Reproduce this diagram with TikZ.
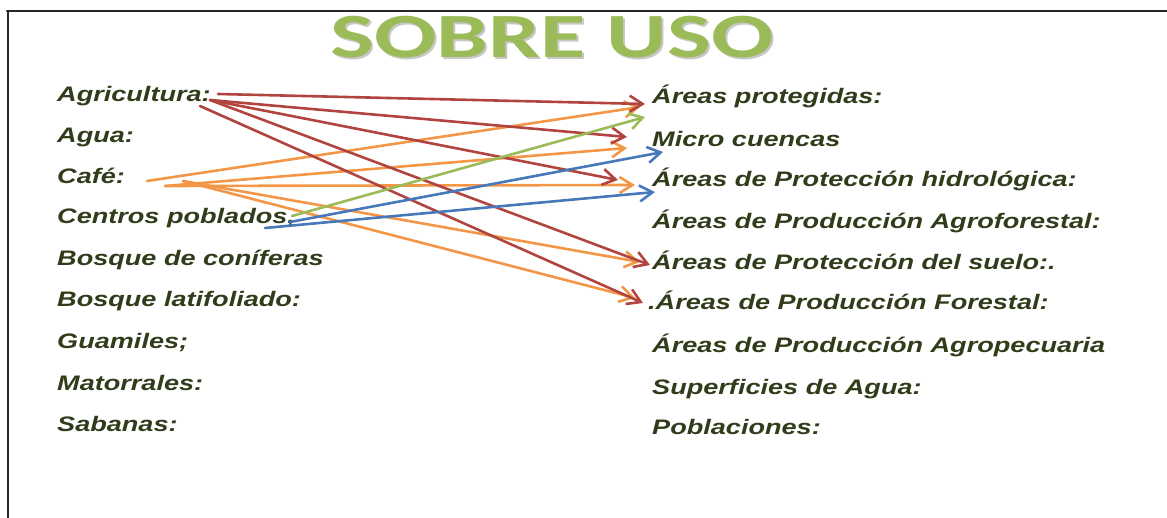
\documentclass[tikz,border=0pt]{standalone}
\usepackage{fontspec}
\usepackage{xcolor}
\usepackage{tikz}
\usetikzlibrary{arrows.meta, positioning, calc}
\newfontfamily\lblfont[FakeStretch=1.29]{Liberation Sans}
\newfontfamily\ttlfont[FakeStretch=1.47]{Carlito}
\definecolor{redln}{RGB}{178,68,64}
\definecolor{orgln}{RGB}{243,150,72}
\definecolor{grnln}{RGB}{155,187,89}
\definecolor{bluln}{RGB}{70,120,186}
\definecolor{lbltxt}{RGB}{48,60,26}

\begin{document}
\begin{tikzpicture}[x=1pt, y=-1pt, line join=round, line cap=round]
   % Styles
   \tikzset{
    lbl/.style={anchor=base west, inner sep=0pt, text=lbltxt,
      font=\lblfont\bfseries\itshape\fontsize{21}{25}\selectfont},
    arr/.style={line width=2.6pt, -{Straight Barb[length=13pt, width=16pt, line width=2.6pt]}},
    reda/.style={arr, redln},
    orga/.style={arr, orgln},
    grna/.style={arr, grnln},
    blua/.style={arr, bluln}
   }
  \useasboundingbox (0,0) rectangle (1167,518);
  % Frame
  \draw[line width=2.5pt, black!85] (7,11) -- (1167,11);
  \draw[line width=2pt, black!85] (8,11) -- (8,518);
  % Title
  \node[anchor=base, inner sep=0pt, text=black!22, font=\ttlfont\bfseries\fontsize{63}{70}\selectfont]
    (ttlshadow) at (554,60) {SOBRE USO};
  \node[anchor=base, inner sep=0pt, text=grnln, font=\ttlfont\bfseries\fontsize{63}{70}\selectfont]
    (ttl) at (552,58) {SOBRE USO};
  % Nodes (left)
  \node[lbl] (agr)  at (57,102) {Agricultura:};
  \node[lbl] (agua) at (57,143) {Agua:};
  \node[lbl] (cafe) at (57,184) {Café:};
  \node[lbl] (cpob) at (57,224) {Centros poblados,};
  \node[lbl] (bcon) at (57,266) {Bosque de coníferas};
  \node[lbl] (blat) at (57,307) {Bosque latifoliado:};
  \node[lbl] (guam) at (57,349) {Guamiles;};
  \node[lbl] (mato) at (57,390) {Matorrales:};
  \node[lbl] (saba) at (57,431) {Sabanas:};
  % Nodes (right)
  \node[lbl] (prot)   at (652,104) {Áreas protegidas:};
  \node[lbl] (micro)  at (652,147) {Micro cuencas};
  \node[lbl] (hidro)  at (652,187) {Áreas de Protección hidrológica:};
  \node[lbl] (agrof)  at (652,229) {Áreas de Producción Agroforestal:};
  \node[lbl] (suelo)  at (652,270) {Áreas de Protección del suelo:.};
  \node[lbl] (forest) at (648,310) {.Áreas de Producción Forestal:};
  \node[lbl] (agrop)  at (652,353) {Áreas de Producción Agropecuaria};
  \node[lbl] (superf) at (652,394) {Superficies de Agua:};
  \node[lbl] (pobl)   at (652,434) {Poblaciones:};
  % Line starts
  \coordinate (agrA) at (218,94);
  \coordinate (agrB) at (210,100);
  \coordinate (agrC) at (200,106);
  \coordinate (cafeA) at (147,181);
  \coordinate (cafeB) at (165,186);
  \coordinate (cafeC) at (183,181);
  \coordinate (cpobA) at (292,216);
  \coordinate (cpobB) at (290,222);
  \coordinate (cpobC) at (265,228);
  % Edges (color-coded)
  \draw[orga] (cafeA) -- ($(prot.base west)+(-12,3)$);
  \draw[orga] (cafeB) -- ($(micro.base west)+(-25,1)$);
  \draw[orga] (cafeB) -- ($(hidro.base west)+(-17,-2)$);
  \draw[orga] (cafeC) -- ($(suelo.base west)+(-12,-8)$);
  \draw[orga] (cafeC) -- ($(forest.base west)+(-13,-12)$);
  \draw[reda] (agrA) -- ($(prot.base west)+(-7,0)$);
  \draw[reda] (agrB) -- ($(micro.base west)+(-25,-10)$);
  \draw[reda] (agrB) -- ($(hidro.base west)+(-34,-7)$);
  \draw[reda] (agrB) -- ($(suelo.base west)+(-2,-5)$);
  \draw[reda] (agrC) -- ($(forest.base west)+(-5,-7)$);
  \draw[grna] (cpobA) -- ($(prot.base west)+(-7,13)$);
  \draw[blua] (cpobB) -- ($(micro.base west)+(11,5)$);
  \draw[blua] (cpobC) -- ($(hidro.base west)+(3,5)$);
\end{tikzpicture}
\end{document}
